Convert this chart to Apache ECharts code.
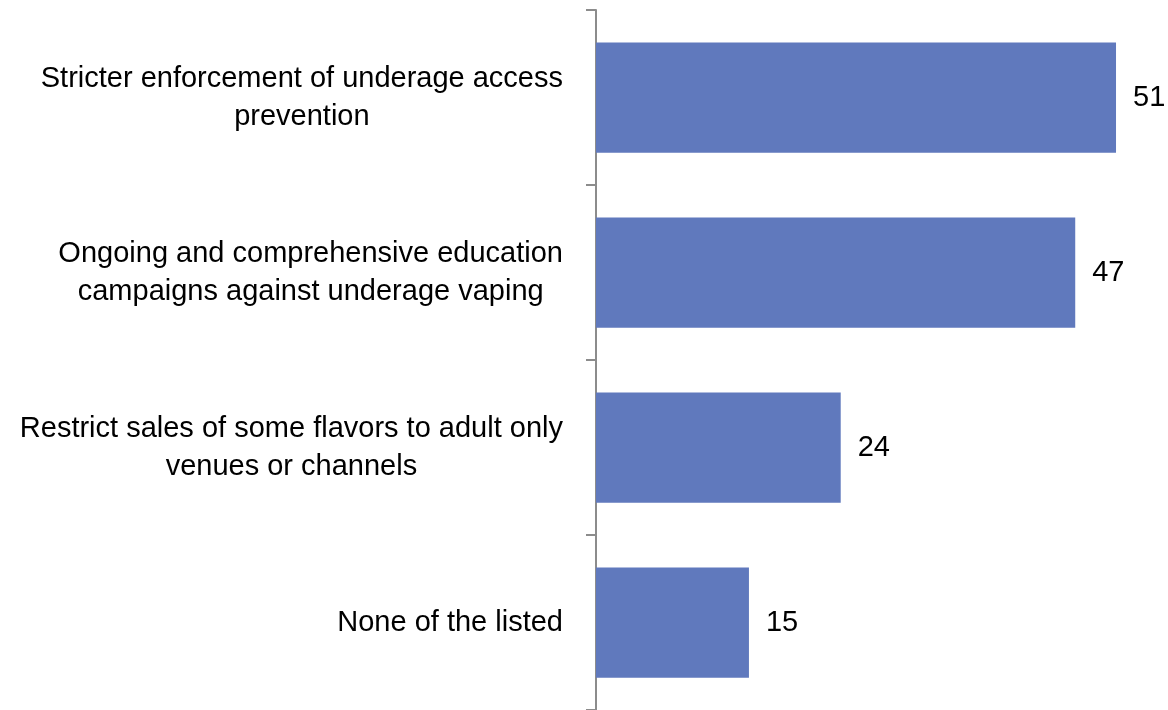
<!DOCTYPE html>
<html><head><meta charset="utf-8">
<script src="https://cdn.jsdelivr.net/npm/echarts@6/dist/echarts.min.js"></script>
<style>html,body{margin:0;padding:0;background:#fff}#c{width:1168px;height:710px}</style>
</head><body><div id="c"></div>
<script>
const categories = [
  "Stricter enforcement of underage access\nprevention",
  "Ongoing and comprehensive education\ncampaigns against underage vaping",
  "Restrict sales of some flavors to adult only\nvenues or channels",
  "None of the listed"
];
const values = [51, 47, 24, 15];

const FONT = "Liberation Sans";
const FS = 29;
const chart = echarts.init(document.getElementById('c'), null, {renderer: 'canvas'});
chart.setOption({
  animation: false,
  backgroundColor: '#fff',
  grid: {left: 596, right: 1, top: 10, bottom: 0, containLabel: false},
  xAxis: {type: 'value', min: 0, max: 56, show: false, splitLine: {show: false}},
  yAxis: {
    type: 'category', data: categories, inverse: true,
    axisLine: {show: true, lineStyle: {color: '#8c8c8c', width: 2}},
    axisTick: {show: true, length: 10, lineStyle: {color: '#8c8c8c', width: 2}},
    axisLabel: {
      margin: 33, color: '#000', fontFamily: FONT, fontSize: FS, lineHeight: 38,
      align: 'right',
      formatter: v => '{c|' + v + '}',
      rich: {c: {align: 'center', color: '#000', fontFamily: FONT, fontSize: FS, lineHeight: 38}}
    }
  },
  series: [{
    type: 'bar', data: values, barCategoryGap: '37%',
    itemStyle: {color: '#6079BD'},
    label: {show: true, position: 'right', distance: 17, color: '#000', fontFamily: FONT, fontSize: FS}
  }]
});
</script></body></html>
